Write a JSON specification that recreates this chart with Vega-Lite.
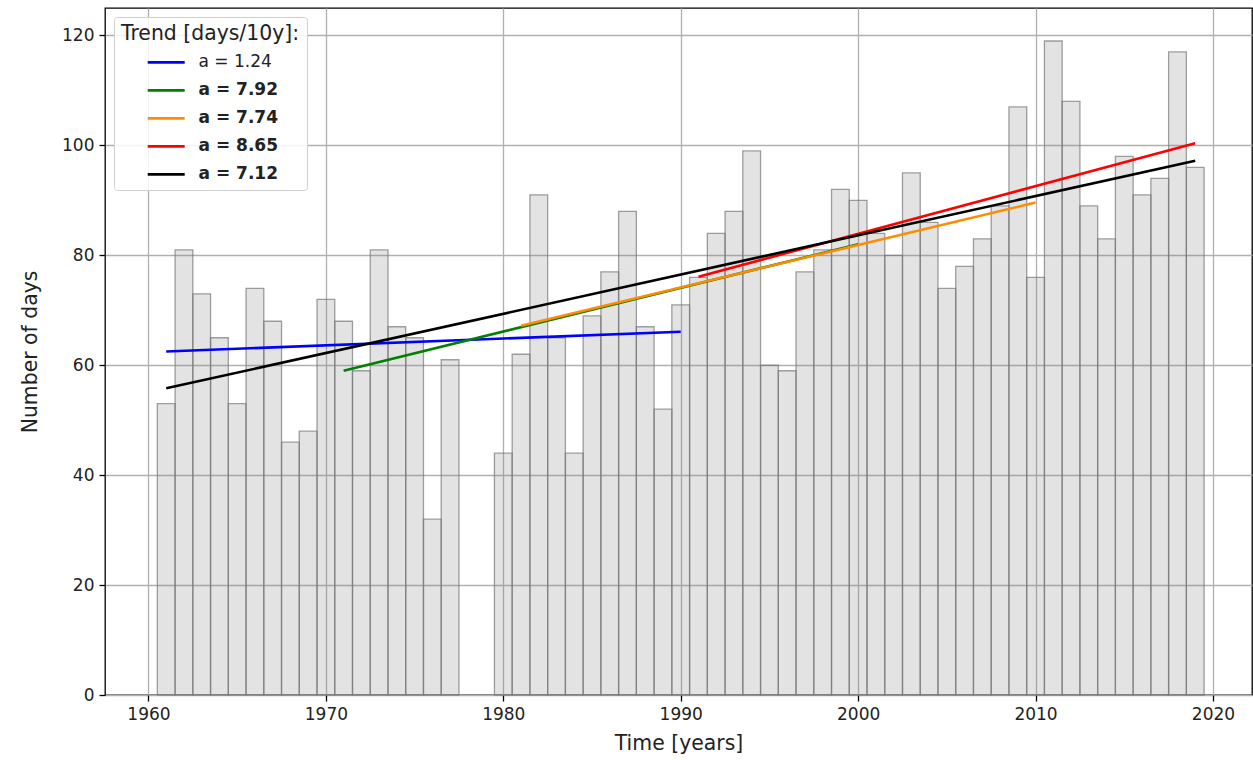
{
  "$schema": "https://vega.github.io/schema/vega-lite/v6.json",
  "autosize": {"type": "none"},
  "padding": {"left": 105, "top": 8, "right": 1, "bottom": 65},
  "width": 1147,
  "height": 687,
  "background": "white",
  "config": {
    "font": "DejaVu Sans",
    "view": {"stroke": "black", "strokeWidth": 1.3},
    "axis": {
      "labelFont": "DejaVu Sans",
      "titleFont": "DejaVu Sans",
      "labelFontSize": 17,
      "titleFontSize": 20.4,
      "labelColor": "#222222",
      "titleColor": "#222222",
      "titleFontWeight": "normal",
      "grid": true,
      "gridColor": "#b0b0b0",
      "gridWidth": 1.3,
      "domain": false,
      "tickColor": "black",
      "tickSize": 6,
      "tickWidth": 1.3
    }
  },
  "datasets": {
    "bars": [
      {"year": 1961, "days": 53}, {"year": 1962, "days": 81}, {"year": 1963, "days": 73},
      {"year": 1964, "days": 65}, {"year": 1965, "days": 53}, {"year": 1966, "days": 74},
      {"year": 1967, "days": 68}, {"year": 1968, "days": 46}, {"year": 1969, "days": 48},
      {"year": 1970, "days": 72}, {"year": 1971, "days": 68}, {"year": 1972, "days": 59},
      {"year": 1973, "days": 81}, {"year": 1974, "days": 67}, {"year": 1975, "days": 65},
      {"year": 1976, "days": 32}, {"year": 1977, "days": 61}, {"year": 1980, "days": 44},
      {"year": 1981, "days": 62}, {"year": 1982, "days": 91}, {"year": 1983, "days": 65},
      {"year": 1984, "days": 44}, {"year": 1985, "days": 69}, {"year": 1986, "days": 77},
      {"year": 1987, "days": 88}, {"year": 1988, "days": 67}, {"year": 1989, "days": 52},
      {"year": 1990, "days": 71}, {"year": 1991, "days": 76}, {"year": 1992, "days": 84},
      {"year": 1993, "days": 88}, {"year": 1994, "days": 99}, {"year": 1995, "days": 60},
      {"year": 1996, "days": 59}, {"year": 1997, "days": 77}, {"year": 1998, "days": 81},
      {"year": 1999, "days": 92}, {"year": 2000, "days": 90}, {"year": 2001, "days": 84},
      {"year": 2002, "days": 80}, {"year": 2003, "days": 95}, {"year": 2004, "days": 86},
      {"year": 2005, "days": 74}, {"year": 2006, "days": 78}, {"year": 2007, "days": 83},
      {"year": 2008, "days": 89}, {"year": 2009, "days": 107}, {"year": 2010, "days": 76},
      {"year": 2011, "days": 119}, {"year": 2012, "days": 108}, {"year": 2013, "days": 89},
      {"year": 2014, "days": 83}, {"year": 2015, "days": 98}, {"year": 2016, "days": 91},
      {"year": 2017, "days": 94}, {"year": 2018, "days": 117}, {"year": 2019, "days": 96}
    ],
    "trends": [
      {"series": "a = 1.24", "year": 1961, "value": 62.5},
      {"series": "a = 1.24", "year": 1990, "value": 66.1},
      {"series": "a = 7.92", "year": 1971, "value": 59.0},
      {"series": "a = 7.92", "year": 2000, "value": 82.0},
      {"series": "a = 7.74", "year": 1981, "value": 67.2},
      {"series": "a = 7.74", "year": 2010, "value": 89.6},
      {"series": "a = 8.65", "year": 1991, "value": 76.1},
      {"series": "a = 8.65", "year": 2019, "value": 100.4},
      {"series": "a = 7.12", "year": 1961, "value": 55.8},
      {"series": "a = 7.12", "year": 2019, "value": 97.2}
    ]
  },
  "layer": [
    {
      "data": {"name": "bars"},
      "mark": {"type": "bar", "width": 17.74, "fill": "#808080", "fillOpacity": 0.22, "stroke": "#777777", "strokeOpacity": 0.7, "strokeWidth": 1.3},
      "encoding": {
        "x": {
          "field": "year", "type": "quantitative",
          "scale": {"domain": [1957.55, 2022.2], "nice": false, "zero": false, "padding": 0},
          "axis": {"values": [1960, 1970, 1980, 1990, 2000, 2010, 2020], "format": "d", "title": "Time [years]", "labelPadding": 5, "titlePadding": 11}
        },
        "y": {
          "field": "days", "type": "quantitative",
          "scale": {"domain": [0, 125], "nice": false},
          "axis": {"values": [0, 20, 40, 60, 80, 100, 120], "title": "Number of days", "labelPadding": 5, "titlePadding": 21}
        }
      }
    },
    {
      "data": {"name": "trends"},
      "mark": {"type": "line", "strokeWidth": 2.6},
      "encoding": {
        "x": {"field": "year", "type": "quantitative"},
        "y": {"field": "value", "type": "quantitative"},
        "color": {
          "field": "series", "type": "nominal",
          "scale": {
            "domain": ["a = 1.24", "a = 7.92", "a = 7.74", "a = 8.65", "a = 7.12"],
            "range": ["#0000ff", "#008000", "#ff8c00", "#ff0000", "#000000"]
          },
          "legend": {
            "title": "Trend [days/10y]:",
            "orient": "top-left",
            "offset": 9,
            "padding": 7,
            "fillColor": "rgba(255,255,255,0.85)",
            "strokeColor": "#d0d0d0",
            "cornerRadius": 3,
            "titleFont": "DejaVu Sans",
            "titleFontSize": 20.4,
            "titleFontWeight": "normal",
            "titleColor": "#222222",
            "titleAnchor": "middle",
            "titlePadding": 7,
            "labelFont": "DejaVu Sans",
            "labelFontSize": 17,
            "labelColor": "#222222",
            "symbolType": "M-0.68,0H3.32",
            "symbolSize": 342,
            "symbolStrokeWidth": 2.6,
            "labelOffset": 33.5,
            "rowPadding": 9,
            "encode": {
              "labels": {"update": {"fontWeight": {"signal": "datum.label === 'a = 1.24' ? 'normal' : 'bold'"}}}
            }
          }
        }
      }
    }
  ]
}
